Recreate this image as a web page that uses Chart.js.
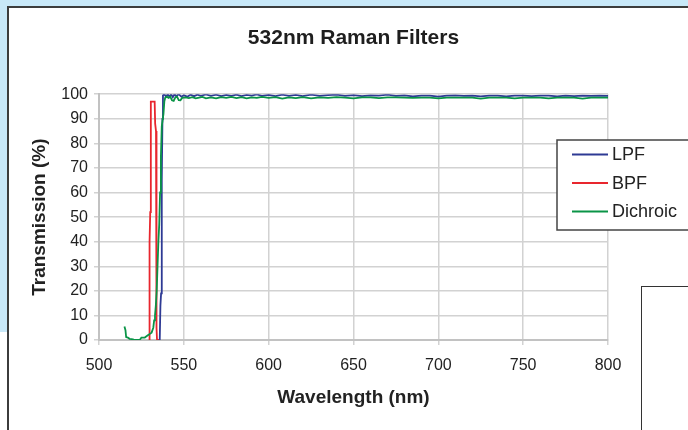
<!DOCTYPE html>
<html>
<head>
<meta charset="utf-8">
<script src="https://cdn.jsdelivr.net/npm/chart.js@4.4.1/dist/chart.umd.min.js"></script>
<style>
  body { margin: 0; }
  #wrap { position: relative; width: 688px; height: 430px; overflow: hidden; background: #fff; }
  .blue { position: absolute; background: #c8e8f8; }
  #panel { position: absolute; left: 7px; top: 6px; width: 720px; height: 460px;
           border-left: 2px solid #3c3c3c; border-top: 2px solid #3c3c3c; background: #fff; }
  #chart { position: absolute; left: 0; top: 0; }
  #sidebox { position: absolute; left: 641px; top: 286px; width: 80px; height: 200px;
             border: 1.5px solid #333; background: #fff; }
</style>
</head>
<body>
<div id="wrap">
  <div class="blue" style="left:0;top:0;width:688px;height:7px"></div>
  <div class="blue" style="left:0;top:0;width:7px;height:332px"></div>
  <div id="panel"></div>
  <canvas id="chart" width="688" height="430"></canvas>
  <div id="sidebox"></div>
</div>
<script>
// DATA
const seriesNames = ['LPF', 'BPF', 'Dichroic'];
const xTicks = [500, 550, 600, 650, 700, 750, 800];
const yTicks = [0, 10, 20, 30, 40, 50, 60, 70, 80, 90, 100];

const lpfNm = [535, 535.8, 536.2, 536.6, 537.0, 537.4, 537.7, 538.5, 539.5, 540.5, 541.5, 542.5, 543.5, 544.5, 545.5,
  547, 548.5, 550, 552, 554, 556, 558, 560, 563, 566, 569, 572, 575, 578, 581, 584, 587, 590, 593, 596,
  600, 604, 608, 612, 616, 620, 625, 630, 635, 640, 645, 650, 655, 660, 665, 670, 675, 680, 685, 690,
  695, 700, 705, 710, 715, 720, 725, 730, 735, 740, 745, 750, 755, 760, 765, 770, 775, 780, 785, 790, 795, 800];
const lpfT = [0, 0, 14, 19, 65, 90, 99.5, 100, 99, 100, 99, 100, 98.8, 100, 99.2,
  100, 99, 99.6, 99, 99.8, 99.2, 99.8, 99.3, 99.9, 99.3, 99.8, 99.2, 99.7, 99.3, 99.8, 99.2, 99.7, 99.4, 99.9, 99.3,
  99.7, 99.2, 99.8, 99.3, 99.7, 99.2, 99.8, 99.3, 99.6, 99.8, 99.3, 99.6, 99.2, 99.5, 99.4, 99.8, 99.3, 99.5, 99.1, 99.4,
  99.4, 99.0, 99.4, 99.5, 99.3, 99.4, 99.1, 99.4, 99.4, 99.1, 99.4, 99.4, 99.2, 99.4, 99.4, 99.1, 99.4, 99.2, 99.4, 99.3, 99.4, 99.3];

const bpfNm = [529.5, 529.8, 530.2, 530.5, 530.6, 532.8, 533.1, 533.6, 533.8, 534.0, 534.2, 535.3];
const bpfT = [0, 40, 52, 60, 97, 97, 88, 85, 8, 5, 0, 0];

const dichroicNm = [515, 515.6, 516, 517, 518, 520, 521, 524, 525, 527, 528, 529, 530, 531, 532, 532.5, 533, 533.5,
  534, 534.5, 535, 535.5, 536, 536.5, 537, 538, 538.5, 539, 540, 541, 542, 543, 544, 545, 546, 547, 548, 549,
  551, 553, 555, 557, 559, 561, 563, 566, 569, 572, 575, 578, 581, 584, 587, 590, 593, 596, 600, 604, 608,
  612, 616, 620, 625, 630, 635, 640, 645, 650, 655, 660, 665, 670, 675, 680, 685, 690, 695, 700, 705, 710,
  715, 720, 725, 730, 735, 740, 745, 750, 755, 760, 765, 770, 775, 780, 785, 790, 795, 800];
const dichroicT = [5.5, 4, 1.2, 1, 0.5, 0.3, 0, 0, 1, 1, 1.5, 2, 2.5, 3, 5, 8, 10, 14,
  20, 30, 40, 47, 60, 75, 87, 92, 97, 98.5, 99, 98.5, 99, 97.5, 97.3, 98.7, 99, 97.6, 97.5, 98.5,
  98.7, 98.4, 98.8, 98.3, 98.6, 98.9, 98.3, 98.7, 98.3, 98.8, 98.5, 98.9, 98.4, 98.8, 98.3, 98.7, 98.5, 98.9, 98.5, 98.8, 98.2,
  98.7, 98.4, 98.8, 98.3, 98.7, 98.5, 98.8, 98.6, 98.3, 98.7, 98.7, 98.4, 98.7, 98.7, 98.6, 98.5, 98.6, 98.6, 98.3, 98.6, 98.6,
  98.6, 98.6, 98.2, 98.6, 98.6, 98.6, 98.3, 98.6, 98.6, 98.6, 98.3, 98.6, 98.6, 98.6, 98.2, 98.6, 98.6, 98.6];

function pts(xs, ys) {
  return xs.map((x, i) => ({ x: x, y: ys[i] }));
}

// legend box drawn over the plot, like the Excel one
const boxLegend = {
  id: 'boxLegend',
  afterDraw(chart) {
    const ctx = chart.ctx;
    ctx.save();
    ctx.fillStyle = '#fff';
    ctx.fillRect(557, 140, 150, 90);
    ctx.strokeStyle = '#444';
    ctx.lineWidth = 1.5;
    ctx.strokeRect(557, 140, 150, 90);
    ctx.font = '18px "Liberation Sans", Arial, sans-serif';
    ctx.textBaseline = 'middle';
    chart.data.datasets.forEach((ds, i) => {
      const y = 154.5 + i * 28.5;
      ctx.strokeStyle = ds.borderColor;
      ctx.lineWidth = 2;
      ctx.beginPath();
      ctx.moveTo(572, y);
      ctx.lineTo(608, y);
      ctx.stroke();
      ctx.fillStyle = '#222';
      ctx.fillText(ds.label, 612, y + 1);
    });
    ctx.restore();
  }
};

Chart.defaults.font.family = '"Liberation Sans", Arial, sans-serif';

var ctx = document.getElementById('chart').getContext('2d');
var myChart = new Chart(ctx, {
  type: 'scatter',
  data: {
    datasets: [{
      label: seriesNames[0],
      data: pts(lpfNm, lpfT),
      borderColor: '#2e3a94',
      order: 3
    }, {
      label: seriesNames[1],
      data: pts(bpfNm, bpfT),
      borderColor: '#e8262e',
      order: 2
    }, {
      label: seriesNames[2],
      data: pts(dichroicNm, dichroicT),
      borderColor: '#0a9447',
      order: 1
    }].map(d => Object.assign(d, { showLine: true, pointRadius: 0, borderWidth: 1.8, tension: 0, fill: false }))
  },
  options: {
    responsive: false,
    animation: false,
    layout: { padding: { left: 0, right: 80, top: 0, bottom: 0 } },
    scales: {
      x: {
        type: 'linear',
        min: 500,
        max: 800,
        afterBuildTicks: (s) => { s.ticks = xTicks.map(v => ({ value: v })); },
        afterFit: (s) => { s.height = 90; },
        ticks: { color: '#222', font: { size: 16 }, padding: 11 },
        grid: { color: '#d2d2d2', lineWidth: 1.5, tickLength: 5 },
        border: { color: '#c2c2c2', width: 2 },
        title: {
          display: true,
          text: 'Wavelength (nm)',
          color: '#222',
          font: { size: 19, weight: 'bold' },
          padding: { top: 0, bottom: 21 }
        }
      },
      y: {
        min: 0,
        max: 100,
        afterBuildTicks: (s) => { s.ticks = yTicks.map(v => ({ value: v })); },
        afterFit: (s) => { s.width = 99; },
        ticks: { color: '#222', font: { size: 16 }, padding: 6 },
        grid: { color: '#d2d2d2', lineWidth: 1.5, tickLength: 5 },
        border: { color: '#c2c2c2', width: 2 },
        title: {
          display: true,
          text: 'Transmission (%)',
          color: '#222',
          font: { size: 19, weight: 'bold' },
          padding: { top: 28, bottom: 0 }
        }
      }
    },
    plugins: {
      title: {
        display: true,
        text: '532nm Raman Filters',
        color: '#1e1e1e',
        fullSize: false,
        font: { size: 21, weight: 'bold' },
        padding: { top: 26, bottom: 43 }
      },
      legend: { display: false },
      tooltip: { enabled: false }
    }
  },
  plugins: [boxLegend]
});
</script>
</body>
</html>
